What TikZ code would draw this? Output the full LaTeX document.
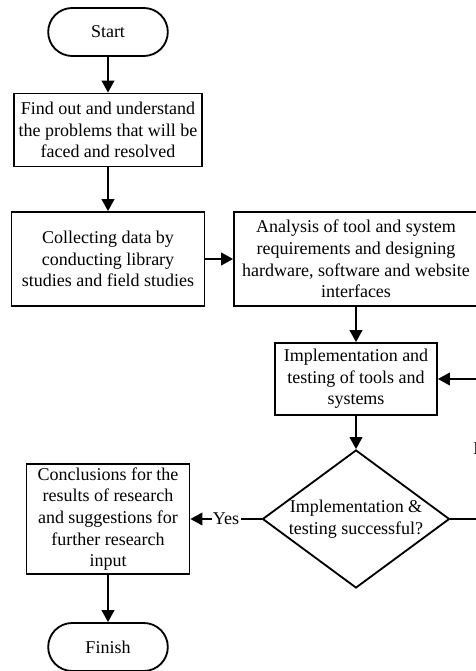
\documentclass[tikz,border=0pt]{standalone}
\usepackage{fontspec}
\setmainfont{Liberation Serif}
\usepackage{tikz}
\usetikzlibrary{shapes,arrows.meta,positioning}

\begin{document}
\begin{tikzpicture}[
    font=\fontsize{12.8}{15.4}\selectfont,
    terminal/.style={rounded rectangle, draw, line width=1.3pt, minimum width=3.225cm, minimum height=1.2cm},
    process/.style={rectangle, draw, line width=1.3pt, align=center, inner sep=2pt},
    decision/.style={diamond, draw, line width=1.3pt, aspect=1.35, align=center, inner sep=0pt},
    arrow/.style={-{Triangle[length=8.5pt,width=9pt]}, line width=1.3pt}
]
    \useasboundingbox (0,0) rectangle (11.9,16.775);

    \node[terminal] (start) at (2.7,15.975) {Start};
    \node[process, minimum width=4.7cm, minimum height=1.825cm] (problem) at (2.7,13.525) {Find out and understand\\the problems that will be\\faced and resolved};
    \node[process, minimum width=4.825cm, minimum height=2.35cm] (collect) at (2.7,10.3) {Collecting data by\\conducting library\\studies and field studies};
    \node[process, minimum width=6.1cm, minimum height=2.35cm] (analysis) at (8.9,10.3) {Analysis of tool and system\\requirements and designing\\hardware, software and website\\interfaces};
    \node[process, minimum width=4.05cm, minimum height=1.8cm] (implement) at (8.9,7.3) {Implementation and\\testing of tools and\\systems};
    \node[decision, minimum width=4.675cm, minimum height=3.45cm] (check) at (8.9,3.8) {Implementation \&\\testing successful?};
    \node[process, minimum width=4.075cm, minimum height=2.75cm] (conclude) at (2.7,3.8) {Conclusions for the\\results of research\\and suggestions for\\further research\\input};
    \node[terminal] (finish) at (2.7,0.6) {Finish};

    \draw[arrow] (start) -- (problem);
    \draw[arrow] (problem) -- (collect);
    \draw[arrow] (collect) -- (analysis);
    \draw[arrow] (analysis) -- (implement);
    \draw[arrow] (implement) -- (check);
    \draw[arrow] (check) -- node[fill=white, inner sep=1pt] {Yes} (conclude);
    \draw[arrow] (check.east) -- ++(0.85,0) |- node[pos=0.25, fill=white, inner sep=1pt] {No} (implement.east);
    \draw[arrow] (conclude) -- (finish);
\end{tikzpicture}
\end{document}
